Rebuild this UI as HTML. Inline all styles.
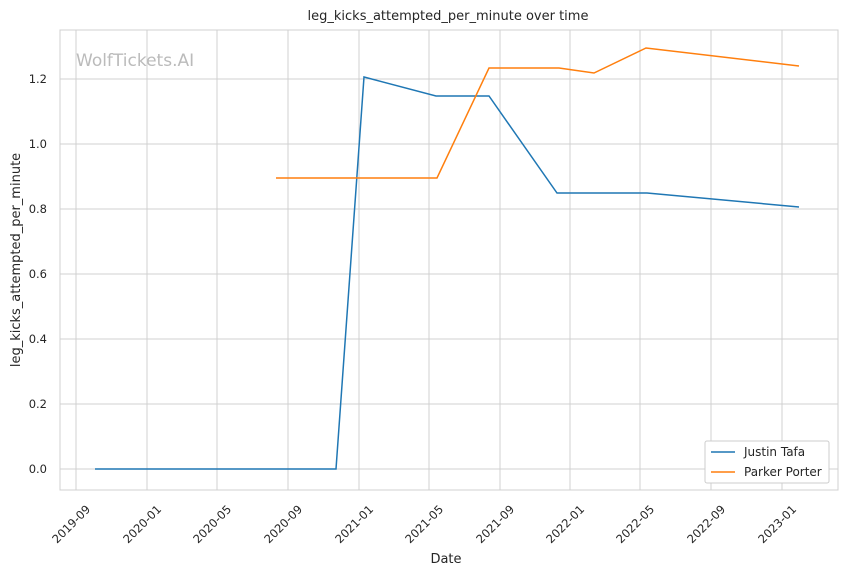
<!DOCTYPE html>
<html><head><meta charset="utf-8"><style>
body{margin:0;background:#fff;}
svg text{font-family:"DejaVu Sans","Liberation Sans",sans-serif;fill:#262626;}
</style></head><body>
<svg width="844" height="575" xmlns="http://www.w3.org/2000/svg">
<rect width="844" height="575" fill="#fff"/>
<g stroke="#d0d0d0" stroke-width="1">
<line x1="76" y1="30" x2="76" y2="490"/><line x1="147" y1="30" x2="147" y2="490"/>
<line x1="217" y1="30" x2="217" y2="490"/><line x1="288" y1="30" x2="288" y2="490"/>
<line x1="359" y1="30" x2="359" y2="490"/><line x1="429" y1="30" x2="429" y2="490"/>
<line x1="500" y1="30" x2="500" y2="490"/><line x1="570" y1="30" x2="570" y2="490"/>
<line x1="640" y1="30" x2="640" y2="490"/><line x1="711" y1="30" x2="711" y2="490"/>
<line x1="782" y1="30" x2="782" y2="490"/>
<line x1="60" y1="469" x2="838" y2="469"/><line x1="60" y1="404" x2="838" y2="404"/>
<line x1="60" y1="339" x2="838" y2="339"/><line x1="60" y1="274" x2="838" y2="274"/>
<line x1="60" y1="209" x2="838" y2="209"/><line x1="60" y1="144" x2="838" y2="144"/>
<line x1="60" y1="79" x2="838" y2="79"/>
</g>
<rect x="60" y="30" width="778" height="460" fill="none" stroke="#d0d0d0"/>
<text x="76" y="66" font-size="17" style="fill:#bbbbbb">WolfTickets.AI</text>
<polyline fill="none" stroke="#1f77b4" stroke-width="1.5" points="95,469 336,469 364,77 436,96 489,96 557,193 647,193 799,207"/>
<polyline fill="none" stroke="#ff7f0e" stroke-width="1.5" points="276,178 437,178 489,68 559,68 594,73 646,48 799,66"/>
<text x="448" y="20" font-size="13" text-anchor="middle">leg_kicks_attempted_per_minute over time</text>
<g font-size="11.5" text-anchor="end">
<text x="47" y="473">0.0</text><text x="47" y="408">0.2</text><text x="47" y="343">0.4</text>
<text x="47" y="278">0.6</text><text x="47" y="213">0.8</text><text x="47" y="148">1.0</text><text x="47" y="83">1.2</text>
</g>
<g font-size="11.5" text-anchor="end">
<text transform="translate(91,510) rotate(-45)">2019-09</text>
<text transform="translate(162,510) rotate(-45)">2020-01</text>
<text transform="translate(232,510) rotate(-45)">2020-05</text>
<text transform="translate(303,510) rotate(-45)">2020-09</text>
<text transform="translate(374,510) rotate(-45)">2021-01</text>
<text transform="translate(444,510) rotate(-45)">2021-05</text>
<text transform="translate(515,510) rotate(-45)">2021-09</text>
<text transform="translate(585,510) rotate(-45)">2022-01</text>
<text transform="translate(655,510) rotate(-45)">2022-05</text>
<text transform="translate(726,510) rotate(-45)">2022-09</text>
<text transform="translate(797,510) rotate(-45)">2023-01</text>
</g>
<text x="446" y="563" font-size="13" text-anchor="middle">Date</text>
<text transform="translate(20,260) rotate(-90)" font-size="13" text-anchor="middle">leg_kicks_attempted_per_minute</text>
<rect x="705" y="441" width="124" height="42" fill="#fff" stroke="#cccccc" rx="2"/>
<line x1="711" y1="452" x2="735" y2="452" stroke="#1f77b4" stroke-width="1.5"/>
<text x="744" y="456" font-size="12">Justin Tafa</text>
<line x1="711" y1="472" x2="735" y2="472" stroke="#ff7f0e" stroke-width="1.5"/>
<text x="744" y="476" font-size="12">Parker Porter</text>
</svg>
</body></html>
